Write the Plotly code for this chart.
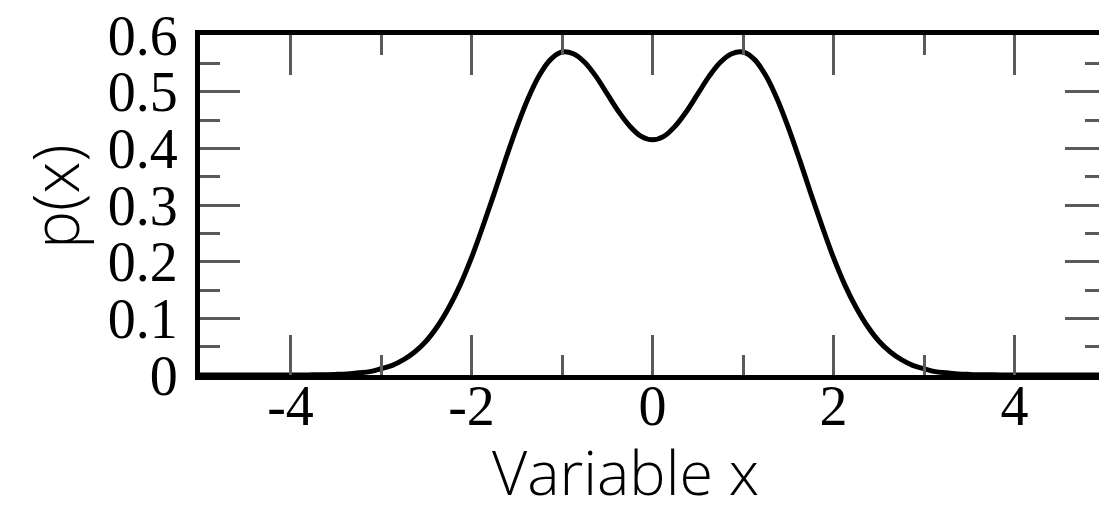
import plotly.graph_objects as go

# Values
x_vals = [-5.0, -4.5, -4.0, -3.875, -3.75, -3.625, -3.5, -3.375, -3.25, -3.125,
          -3.0, -2.875, -2.75, -2.625, -2.5, -2.375, -2.25, -2.125,
          -2.0, -1.875, -1.75, -1.625, -1.5, -1.375, -1.25, -1.125,
          -1.0, -0.875, -0.75, -0.625, -0.5, -0.375, -0.25, -0.125,
          0.0, 0.125, 0.25, 0.375, 0.5, 0.625, 0.75, 0.875,
          1.0, 1.125, 1.25, 1.375, 1.5, 1.625, 1.75, 1.875,
          2.0, 2.125, 2.25, 2.375, 2.5, 2.625, 2.75, 2.875,
          3.0, 3.125, 3.25, 3.375, 3.5, 3.625, 3.75, 3.875, 4.0, 4.5, 5.0]
p_vals = [0.0, 0.0, 0.0001, 0.00015, 0.0003, 0.0006, 0.0011, 0.002, 0.004, 0.006,
          0.011, 0.017, 0.027, 0.041, 0.060, 0.086, 0.119, 0.159,
          0.207, 0.262, 0.320, 0.380, 0.437, 0.488, 0.529, 0.557,
          0.570, 0.567, 0.552, 0.527, 0.496, 0.465, 0.439, 0.421,
          0.415, 0.421, 0.439, 0.465, 0.496, 0.527, 0.552, 0.567,
          0.570, 0.557, 0.529, 0.488, 0.437, 0.380, 0.320, 0.262,
          0.207, 0.159, 0.119, 0.086, 0.060, 0.041, 0.027, 0.017,
          0.011, 0.006, 0.004, 0.002, 0.0011, 0.0006, 0.0003, 0.00015, 0.0001, 0.0, 0.0]

x_ticks = [-4, -2, 0, 2, 4]
x_ticklabels = ["-4", "-2", "0", "2", "4"]
y_ticks = [0, 0.1, 0.2, 0.3, 0.4, 0.5, 0.6]
y_ticklabels = ["0", "0.1", "0.2", "0.3", "0.4", "0.5", "0.6"]
x_title = "Variable x"
y_title = "p(x)"

fig = go.Figure()
fig.add_trace(go.Scatter(x=x_vals, y=p_vals, mode="lines",
                         line=dict(color="black", width=5, shape="spline", smoothing=1.0),
                         cliponaxis=True, showlegend=False))

tick_font = dict(family="Liberation Serif", size=56, color="black")
tick_gray = "#5a5a5a"

fig.update_xaxes(range=[-5, 5], tickvals=x_ticks, ticktext=x_ticklabels,
                 ticks="inside", ticklen=40, tickwidth=3, tickcolor=tick_gray,
                 minor=dict(dtick=1, tick0=-5, ticks="inside", ticklen=20, tickwidth=3, tickcolor=tick_gray),
                 showline=True, linecolor="black", linewidth=5, mirror="ticks",
                 showgrid=False, zeroline=False, tickfont=tick_font, ticklabelstandoff=-22,
                 ticklabeloverflow="allow", automargin=False)
fig.update_yaxes(range=[0, 0.6], tickvals=y_ticks, ticktext=y_ticklabels,
                 ticks="inside", ticklen=40, tickwidth=3, tickcolor=tick_gray,
                 minor=dict(dtick=0.05, tick0=0, ticks="inside", ticklen=20, tickwidth=3, tickcolor=tick_gray),
                 showline=True, linecolor="black", linewidth=5, mirror="ticks",
                 showgrid=False, zeroline=False, tickfont=tick_font, ticklabelstandoff=6,
                 ticklabeloverflow="allow", automargin=False)

# page body adds an 8px offset; plot area targeted at x 200..1105, y 35..375 in the window
off = 8
L, T, W, H = 200 - off, 35 - off, 905, 340
fig_w, fig_h = 1107 - off, 513 - off

fig.add_annotation(text=x_title, xref="paper", yref="paper",
                   x=(625 - 200) / W, y=-(472 - 375) / H, xanchor="center", yanchor="middle",
                   showarrow=False, font=dict(family="Open Sans", size=61, color="black", weight=300))
fig.add_annotation(text=y_title, xref="paper", yref="paper",
                   x=-(200 - 54) / W, y=(375 - 197) / H, xanchor="center", yanchor="middle",
                   textangle=-90, showarrow=False,
                   font=dict(family="Open Sans", size=64, color="black", weight=300))

fig.update_layout(width=fig_w, height=fig_h,
                  margin=dict(l=L, r=fig_w - L - W, t=T, b=fig_h - T - H),
                  paper_bgcolor="white", plot_bgcolor="white")

fig.write_html("out.html")
